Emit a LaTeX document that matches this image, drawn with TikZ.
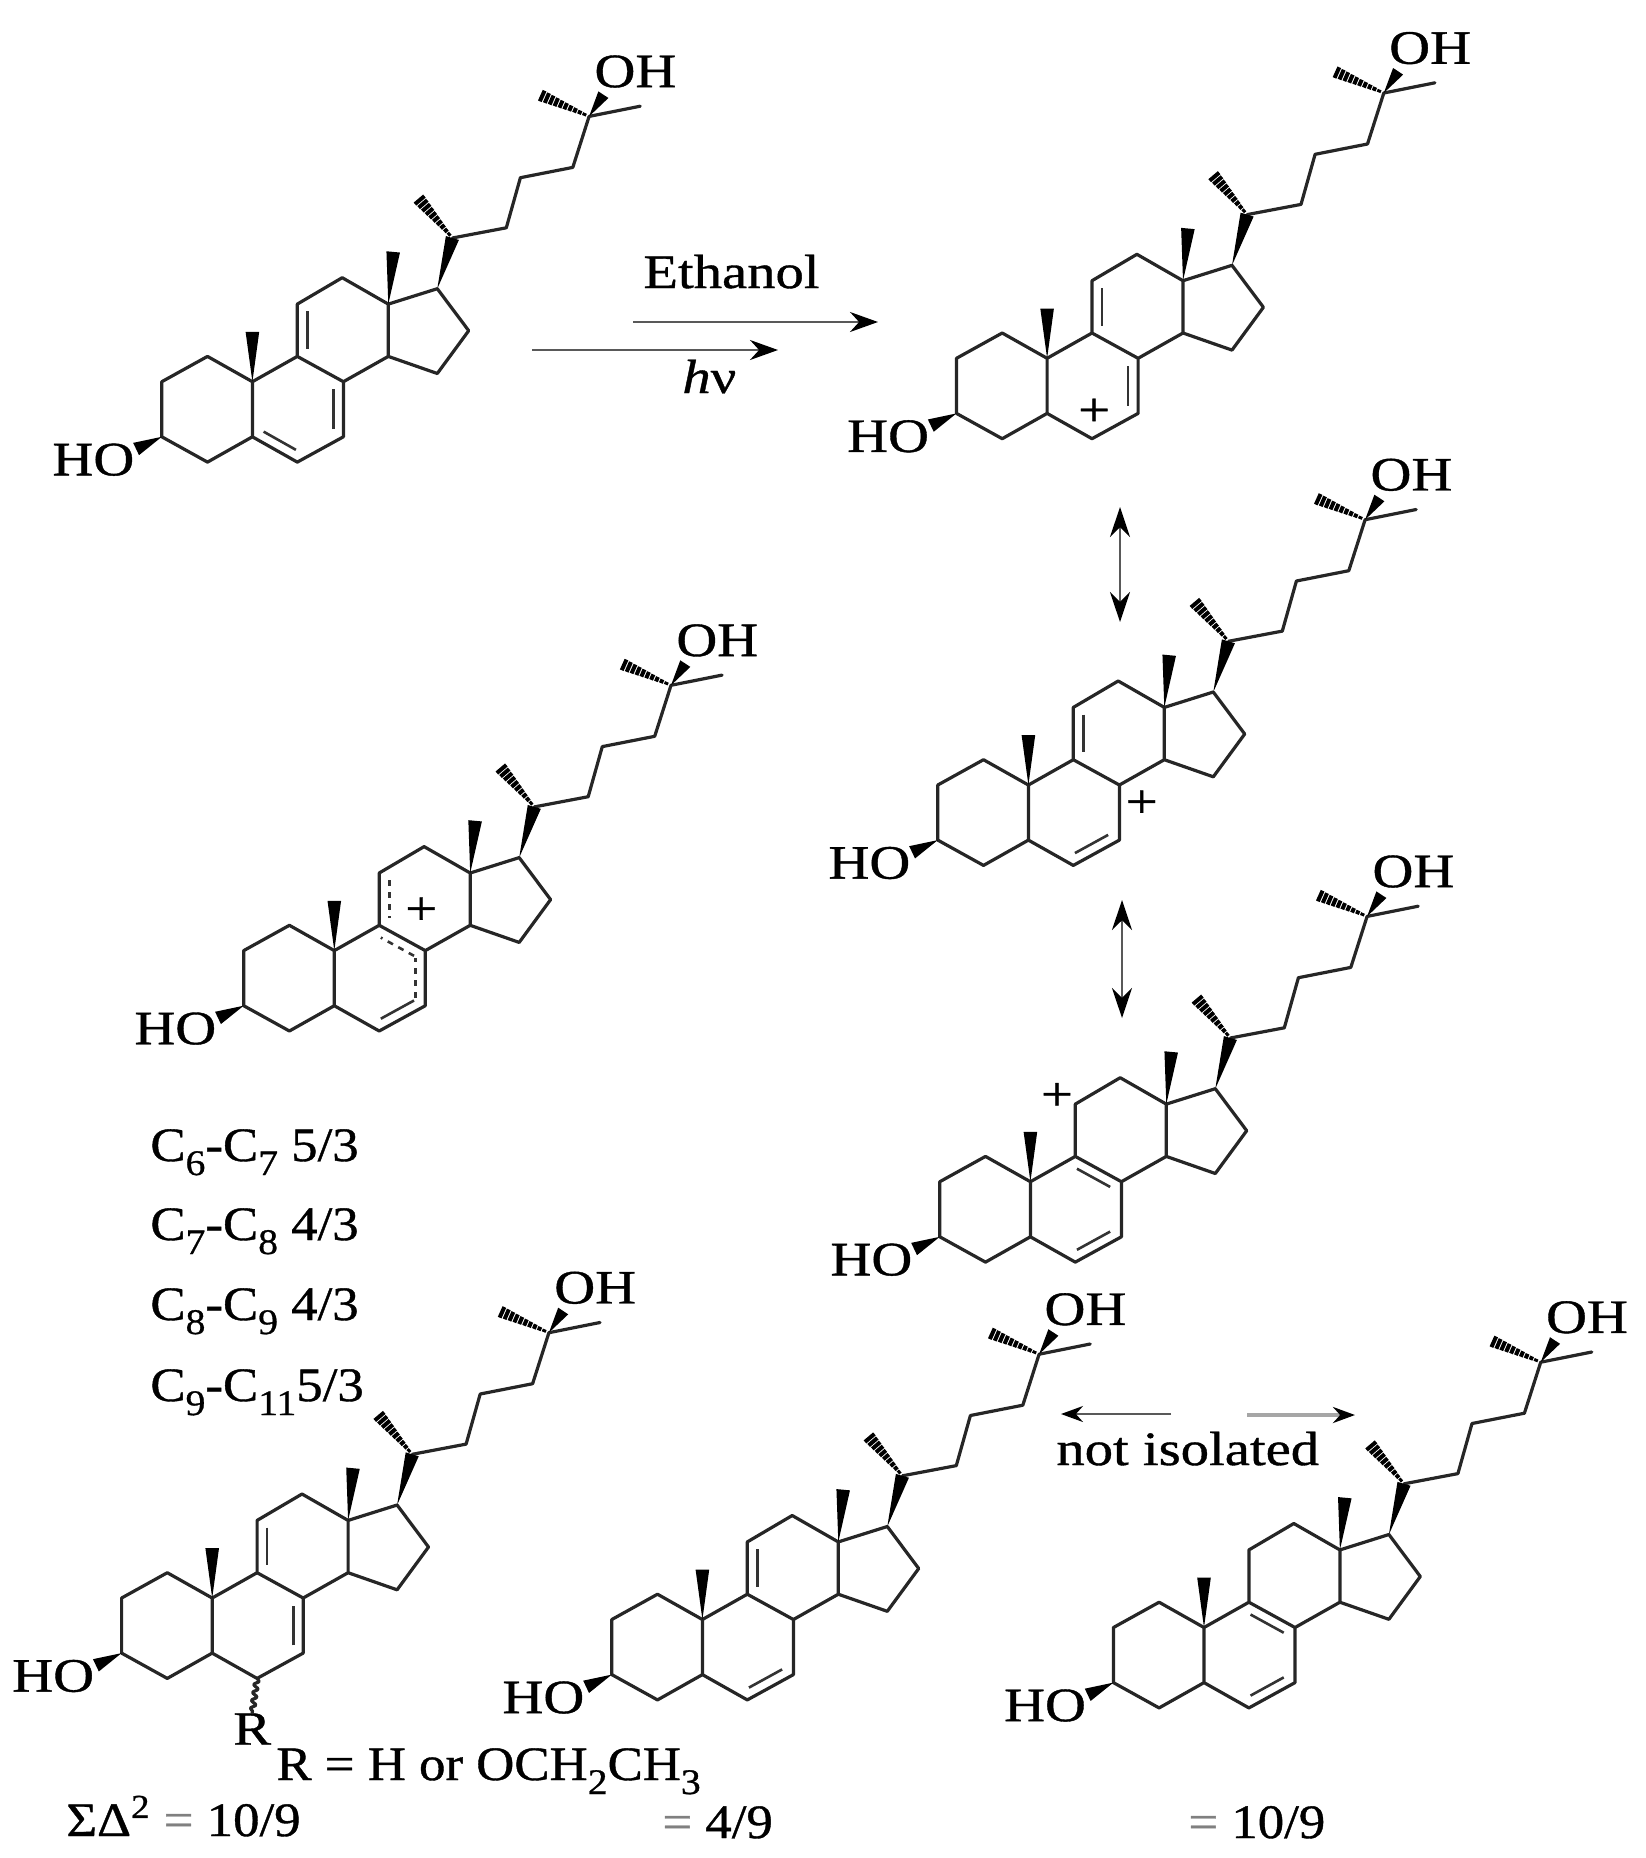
\documentclass[tikz,border=0pt]{standalone}
\usepackage{fontspec}
\setmainfont[FakeStretch=1.18,FakeBold=0.8]{Liberation Serif}
\newfontfamily\txtfont[FakeStretch=1.1,FakeBold=0.8]{Liberation Serif}
\usetikzlibrary{arrows,arrows.meta,calc,decorations.pathmorphing}
\tikzstyle{bond}=[draw=black!85, line width=1.6pt, line join=round, line cap=round]
\tikzstyle{inner}=[draw=black!80, line width=1.3pt]
\tikzstyle{lab}=[inner sep=0pt, font=\fontsize{24}{28}\selectfont]
\tikzstyle{txt}=[lab, anchor=base west]
\tikzstyle{num}=[txt, font=\fontsize{24}{28}\selectfont\txtfont]
\tikzstyle{plus}=[inner sep=0pt, font=\fontsize{24}{24}\selectfont]
\tikzstyle{rxn}=[draw=black!65, line width=1pt, -{Stealth[length=14pt,width=10pt,color=black]}]
\tikzstyle{res}=[draw=black!65, line width=1pt, {Stealth[length=15pt,width=10pt,color=black]}-{Stealth[length=15pt,width=10pt,color=black]}]
\newcommand{\sbs}[1]{\raisebox{-7pt}{\fontsize{18}{18}\selectfont #1}}
% second line of a double bond, on the left of a->b
\newcommand{\innerbond}[3][]{
	\draw[inner,#1] ($(#2)!.14!(#3)!5pt!90:(#3)$) -- ($(#3)!.14!(#2)!5pt!-90:(#2)$);
}
\newcommand{\wedgebond}[3]{
	\fill[black] (#1) -- ($(#2)!#3!90:(#1)$) -- ($(#2)!#3!-90:(#1)$) -- cycle;
}
\newcommand{\hashbond}[3]{
	\foreach \t in {.1,.2,...,1} {
		\pgfmathsetmacro{\hw}{.5+\t*#3}
		\draw[black, line width=2pt] ($(#1)!\t!(#2)!\hw pt!90:(#2)$) -- ($(#1)!\t!(#2)!\hw pt!-90:(#2)$);
	}
}
% name, position of c10, then what differs from one molecule to the next
\newcommand{\steroid}[4]{
	\begin{scope}[shift={(#2,#3)}, name prefix=#1-]
		\coordinate (c1) at (-44.9,-25.3);
		\coordinate (c2) at (-90.6,0);
		\coordinate (c3) at (-90.6,55.1);
		\coordinate (c4) at (-44.9,80.4);
		\coordinate (c5) at (0,55.1);
		\coordinate (c6) at (44.9,80.4);
		\coordinate (c7) at (91,55.1);
		\coordinate (c8) at (91,0);
		\coordinate (c9) at (44.9,-25.3);
		\coordinate (c10) at (0,0);
		\coordinate (c11) at (44.9,-77.6);
		\coordinate (c12) at (89.8,-104);
		\coordinate (c13) at (135.9,-77.6);
		\coordinate (c14) at (135.9,-25.3);
		\coordinate (c15) at (184.9,-8.2);
		\coordinate (c16) at (216.3,-51);
		\coordinate (c17) at (184.9,-93);
		\coordinate (c18) at (140.8,-129.8);
		\coordinate (c19) at (0,-49.8);
		\coordinate (c20) at (200,-143.7);
		\coordinate (c21) at (167.3,-181.6);
		\coordinate (c22) at (253.9,-153.9);
		\coordinate (c23) at (268,-204);
		\coordinate (c24) at (320.4,-214.3);
		\coordinate (c25) at (336.7,-265.3);
		\coordinate (c26) at (289.8,-285.7);
		\coordinate (c27) at (387.8,-275.5);
		\coordinate (o25) at (351,-287);
		\coordinate (o3) at (-116.3,67.3);
		\node at (383,-310.2) [lab] (oh) {OH};
		\node at (-159,78) [lab] (ho) {HO};
		\draw[bond] (c3) -- (c2) -- (c1) -- (c10) -- (c5) -- (c4) -- cycle
			(c5) -- (c6) -- (c7) -- (c8) -- (c9) -- (c10)
			(c9) -- (c11) -- (c12) -- (c13) -- (c14) -- (c8)
			(c14) -- (c15) -- (c16) -- (c17) -- (c13)
			(c20) -- (c22) -- (c23) -- (c24) -- (c25) -- (c27);
		\wedgebond{c10}{c19}{3.4pt}
		\wedgebond{c13}{c18}{3.4pt}
		\wedgebond{c17}{c20}{3.4pt}
		\wedgebond{c25}{o25}{3pt}
		\wedgebond{c3}{o3}{3.4pt}
		\hashbond{c20}{c21}{2.6}
		\hashbond{c25}{c26}{2.4}
		#4
	\end{scope}
}

\begin{document}
\begin{tikzpicture}[x=.5pt, y=-.5pt]
      \useasboundingbox (0,0) rectangle (1645,1858);
      %
      \steroid{a}{252.4}{381.7}{
        \innerbond{c11}{c9}
        \innerbond{c7}{c8}
        \innerbond{c5}{c6}
      }
      \steroid{b}{1047.1}{358.3}{
        \innerbond{c11}{c9}
        \innerbond{c7}{c8}
        \node at (47,54) [plus] (p) {+};
      }
      \steroid{c}{1028.4}{785}{
        \innerbond{c11}{c9}
        \innerbond{c6}{c7}
        \node at (113.4,19) [plus] (p) {+};
      }
      \steroid{d}{1030.4}{1181.7}{
        \innerbond{c8}{c9}
        \innerbond{c6}{c7}
        \node at (26.5,-85) [plus] (p) {+};
      }
      \steroid{f}{334.3}{950.6}{
        \innerbond[dashed]{c11}{c9}
        \innerbond[dashed]{c8}{c9}
        \innerbond[dashed]{c7}{c8}
        \innerbond{c6}{c7}
        \node at (87,-39.6) [plus] (p) {+};
      }
      \steroid{g}{212.2}{1598}{
        \innerbond{c11}{c9}
        \innerbond{c7}{c8}
        \node at (40,131) [lab] (r) {R};
        \draw[bond, decorate, decoration={snake, amplitude=1.2pt, segment length=4pt}] (c6) -- (r.north);
      }
      \steroid{h}{702.4}{1619.5}{
        \innerbond{c11}{c9}
        \innerbond{c6}{c7}
      }
      \steroid{i}{1204}{1627.5}{
        \innerbond{c8}{c9}
        \innerbond{c6}{c7}
      }
      % arrows
      \coordinate (etha) at (633,322);
      \coordinate (ethb) at (878,322);
      \coordinate (hva) at (532,350);
      \coordinate (hvb) at (778,350);
      \draw[rxn] (etha) -- (ethb);
      \draw[rxn] (hva) -- (hvb);
      \node at (643,288) [txt] (ethanol) {Ethanol};
      \node at (682,393) [txt] (hv) {\textit{h}ν};
      \coordinate (resa) at (1120,507);
      \coordinate (resb) at (1120,622);
      \coordinate (resc) at (1122,900);
      \coordinate (resd) at (1122,1018);
      \draw[res] (resa) -- (resb);
      \draw[res] (resc) -- (resd);
      \coordinate (nota) at (1171,1414);
      \coordinate (notb) at (1061,1414);
      \coordinate (notc) at (1247,1415);
      \coordinate (notd) at (1355,1415);
      \draw[rxn, -{Stealth[length=11pt,width=8pt,color=black]}] (nota) -- (notb);
      \draw[rxn, draw=black!35, line width=1.8pt, -{Stealth[length=11pt,width=8pt,color=black]}] (notc) -- (notd);
      \node at (1056,1465) [txt] (notiso) {not isolated};
      % bond orders
      \node at (150,1161) [num] (order1) {C\sbs{6}-C\sbs{7} 5/3};
      \node at (150,1240) [num] (order2) {C\sbs{7}-C\sbs{8} 4/3};
      \node at (150,1320) [num] (order3) {C\sbs{8}-C\sbs{9} 4/3};
      \node at (150,1401) [num] (order4) {C\sbs{9}-C\sbs{11}5/3};
      \node at (276,1780) [num] (rdef) {R = H or OCH\sbs{2}CH\sbs{3}};
      \node at (66,1836) [num] (sum1) {ΣΔ\textsuperscript{2} {\color{black!50}=} 10/9};
      \node at (662,1838) [num] (sum2) {{\color{black!50}=} 4/9};
      \node at (1188,1838) [num] (sum3) {{\color{black!50}=} 10/9};
\end{tikzpicture}
\end{document}
